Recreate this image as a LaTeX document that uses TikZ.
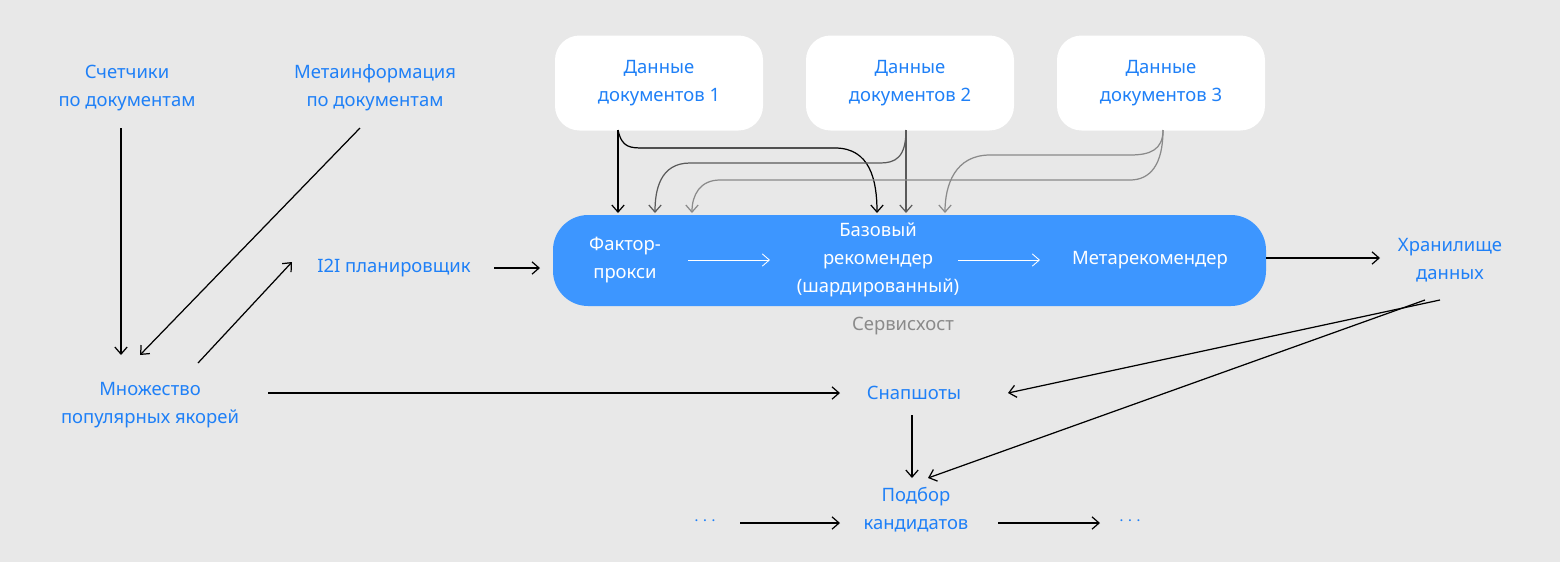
\documentclass[tikz,border=0pt]{standalone}
\usepackage{fontspec}
\setmainfont{Noto Sans}
\usetikzlibrary{arrows.meta}
\definecolor{bg}{HTML}{E8E8E8}
\definecolor{tb}{HTML}{1F80F7}
\definecolor{bb}{HTML}{3D96FF}
\definecolor{g1}{HTML}{5A5A5A}
\definecolor{g2}{HTML}{8A8A8A}
\begin{document}
\begin{tikzpicture}[x=0.02cm,y=-0.02cm,
  lbl/.style={text=tb,align=center,font=\fontsize{10.5}{16}\selectfont,inner sep=0},
  wl/.style={text=white,align=center,font=\fontsize{10.5}{16}\selectfont,inner sep=0},
  ar/.style={-{Straight Barb[length=4pt,width=7pt]},line width=0.7pt},
  wbox/.style={fill=white,rounded corners=14pt,minimum width=208*0.02cm,minimum height=95*0.02cm,draw=none}]
\fill[bg] (0,0) rectangle (1560,562);
\useasboundingbox (0,0) rectangle (1560,562);
% top boxes
\node[wbox,lbl] (d1) at (659,83) {Данные\\документов 1};
\node[wbox,lbl] (d2) at (910,83) {Данные\\документов 2};
\node[wbox,lbl] (d3) at (1161,83) {Данные\\документов 3};
% blue box
\node[fill=bb,rounded corners=20pt,minimum width=713*0.02cm,minimum height=91*0.02cm,inner sep=0] (svc) at (909.5,260.5) {};
\node[wl] (fp) at (625,260) {Фактор-\\прокси};
\node[wl] (br) at (878,260) {Базовый\\рекомендер\\(шардированный)};
\node[wl] (mr) at (1150,260) {Метарекомендер};
\draw[ar,white,line width=0.5pt] (688,260) -- (770,260);
\draw[ar,white,line width=0.5pt] (958,260) -- (1040,260);
\node[text=g2,font=\fontsize{10.5}{16}\selectfont] (sh) at (903,326) {Сервисхост};
% top connectors
\coordinate (t1) at (618,130); \coordinate (t2) at (906,130); \coordinate (t3) at (1163,130);
\draw[ar,black] (t1) -- (618,213);
\draw[ar,black] (t1) .. controls (622,148) and (630,148) .. (645,148) -- (835,148) .. controls (870,148) and (877,180) .. (877,213);
\draw[ar,g1] (t2) -- (906,213);
\draw[ar,g1] (t2) .. controls (906,158) and (895,163) .. (880,163) -- (690,163) .. controls (660,163) and (655,190) .. (655,213);
\draw[ar,g2] (t3) .. controls (1163,150) and (1150,155) .. (1130,155) -- (990,155) .. controls (955,155) and (945,185) .. (945,213);
\draw[ar,g2] (t3) .. controls (1163,165) and (1150,180) .. (1130,180) -- (720,180) .. controls (700,180) and (692,195) .. (692,213);
% left
\node[lbl] (cnt) at (127,88) {Счетчики\\по документам};
\node[lbl] (meta) at (375,88) {Метаинформация\\по документам};
\node[lbl] (anc) at (150,405) {Множество\\популярных якорей};
\node[lbl] (i2i) at (394,268) {I2I планировщик};
\node[lbl] (st) at (1450,260) {Хранилище\\данных};
\node[lbl] (sn) at (914,393) {Снапшоты};
\node[lbl] (pk) at (916,510) {Подбор\\кандидатов};
\node[lbl] (e1) at (705,521) {$\cdots$};
\node[lbl] (e2) at (1130,521) {$\cdots$};
\draw[ar] (121,128) -- (121,355);
\draw[ar] (360,128) -- (140,355);
\draw[ar] (198,363) -- (292,262);
\draw[ar] (494,268) -- (540,268);
\draw[ar] (1266,258) -- (1380,258);
\draw[ar] (1440,300) -- (1008,393);
\draw[ar] (1425,300) -- (928,478);
\draw[ar] (268,393) -- (840,393);
\draw[ar] (912,415) -- (912,478);
\draw[ar] (740,523) -- (840,523);
\draw[ar] (998,523) -- (1100,523);
\end{tikzpicture}
\end{document}
